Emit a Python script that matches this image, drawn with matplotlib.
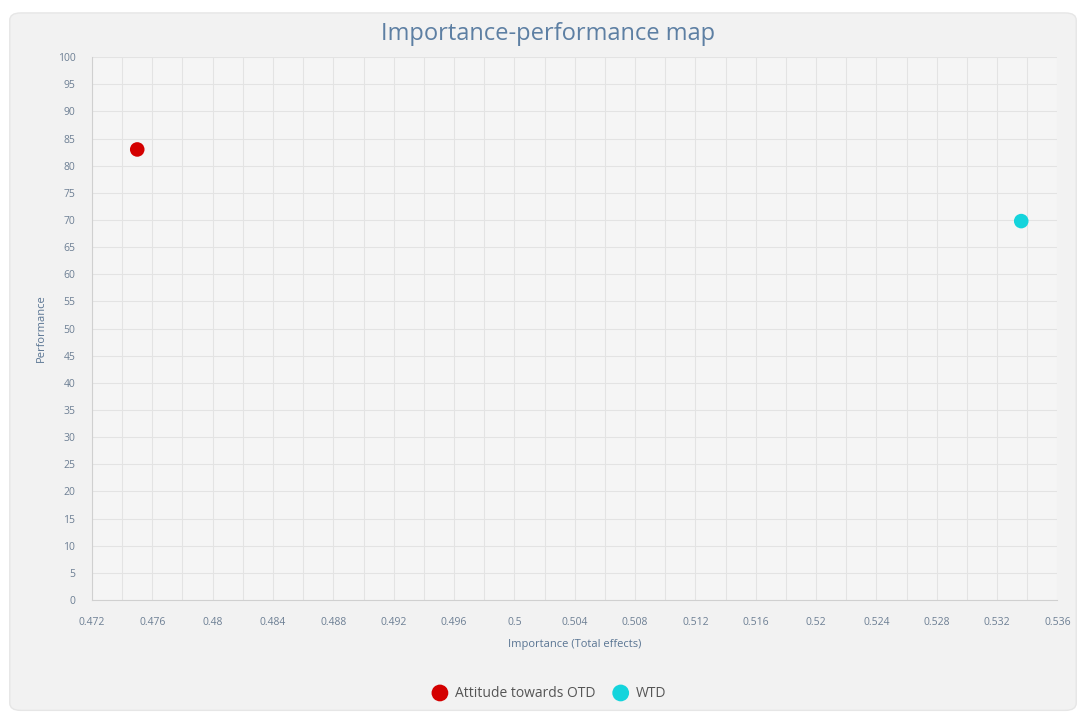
import matplotlib.pyplot as plt
from matplotlib.patches import FancyBboxPatch
import numpy as np

# ---data
names = ['Attitude towards OTD', 'WTD']
importance = [0.475, 0.5336]
performance = [83.0, 69.8]
colors = ['#d40000', '#14d4dc']

x_ticks = np.arange(0.472, 0.5361, 0.004)
x_labels = ['0.472', '0.476', '0.48', '0.484', '0.488', '0.492', '0.496', '0.5',
            '0.504', '0.508', '0.512', '0.516', '0.52', '0.524', '0.528', '0.532', '0.536']
y_ticks = np.arange(0, 101, 5)

plt.rcParams['font.family'] = ['Open Sans', 'DejaVu Sans']

fig = plt.figure(figsize=(10.86, 7.19), dpi=100, facecolor='white')
card = FancyBboxPatch((0.009, 0.012), 0.982, 0.97, boxstyle='round,pad=0,rounding_size=0.01',
                      transform=fig.transFigure, facecolor='#f2f2f2', edgecolor='#e6e6e6',
                      lw=1, zorder=-10)
fig.patches.append(card)

ax = fig.add_axes([0.0847, 0.1655, 0.889, 0.755])
ax.set_facecolor('#f5f5f5')

for n, xv, yv, c in zip(names, importance, performance, colors):
    ax.scatter(xv, yv, s=110, color=c, label=n, zorder=3, edgecolors='none')

ax.set_xlim(0.472, 0.536)
ax.set_ylim(0, 100)
ax.set_xticks(x_ticks)
ax.set_xticklabels(x_labels)
ax.set_xticks(np.arange(0.472, 0.5361, 0.002), minor=True)
ax.set_yticks(y_ticks)
ax.tick_params(axis='both', which='both', length=0, labelsize=7.5, colors='#6d7f94')
ax.tick_params(axis='x', pad=12)
ax.tick_params(axis='y', pad=12)
ax.grid(True, which='both', color='#e3e3e3', lw=0.8)
ax.set_axisbelow(True)

for s in ['top', 'right']:
    ax.spines[s].set_visible(False)
ax.spines['left'].set_color('#d0d0d0')
ax.spines['bottom'].set_color('#d0d0d0')

ax.set_xlabel('Importance (Total effects)', fontsize=8, color='#5a7593', labelpad=8)
ax.set_ylabel('Performance', fontsize=8, color='#5a7593', labelpad=8)
fig.text(0.505, 0.953, 'Importance-performance map', ha='center', va='center',
         fontsize=17, color='#5d7fa3')

fig.legend(loc='center', bbox_to_anchor=(0.503, 0.036), ncol=2, frameon=False,
           fontsize=10, handletextpad=0.1, columnspacing=0.8, markerscale=1.15,
           labelcolor='#555555')

plt.savefig('out.png', dpi=100, facecolor='white')
